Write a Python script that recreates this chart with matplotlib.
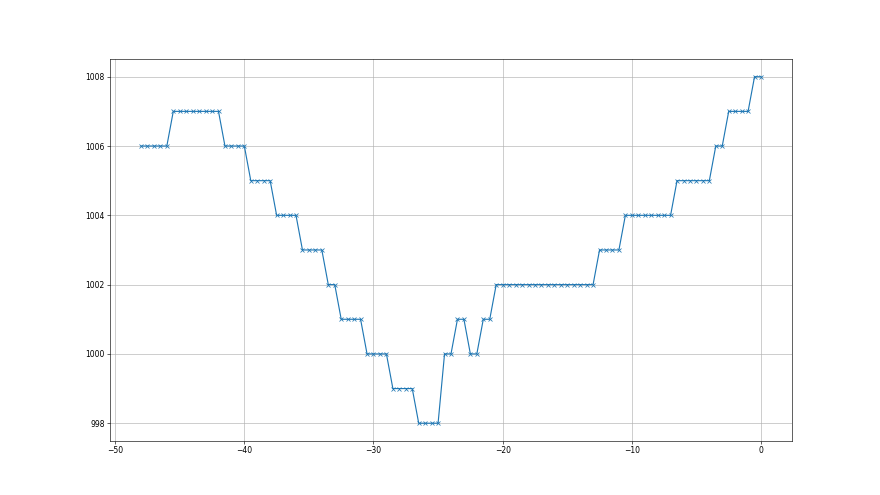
import numpy as np
import matplotlib
matplotlib.use("Agg")
import matplotlib.pyplot as plt

# x positions: half-unit steps from -48 to 0
x_start = -48.0
x_step = 0.5

# level values, in order
values = ([1006] * 5 + [1007] * 8 + [1006] * 4 + [1005] * 4 + [1004] * 4 +
          [1003] * 4 + [1002] * 2 + [1001] * 4 + [1000] * 4 + [999] * 4 +
          [998] * 4 + [1000] * 2 + [1001] * 2 + [1000] * 2 + [1001] * 2 +
          [1002] * 16 + [1003] * 4 + [1004] * 8 + [1005] * 6 + [1006] * 2 +
          [1007] * 4 + [1008] * 2)

xs = x_start + x_step * np.arange(len(values))


def main():
    fig = plt.figure(figsize=(16, 9), dpi=55)
    ax = fig.add_subplot(111)
    ax.plot(xs, values, marker='x', color='C0')
    ax.grid(True)
    fig.savefig('out.png', dpi=55)


if __name__ == "__main__":
    main()
